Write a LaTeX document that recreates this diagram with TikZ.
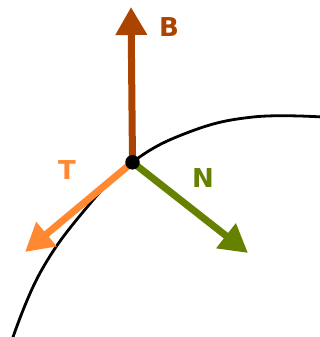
\documentclass[tikz,border=0pt]{standalone}
\usepackage{fontspec}
\setmainfont{DejaVu Sans}
\usetikzlibrary{arrows.meta}
\definecolor{bcol}{HTML}{AA4400}
\definecolor{tcol}{HTML}{FF8830}
\definecolor{ncol}{HTML}{668000}
\tikzset{
  vec/.style={line width=7pt, -{Triangle[length=28pt,width=30pt]}},
  lbl/.style={font=\bfseries\fontsize{26}{30}\selectfont, inner sep=0pt},
  curve/.style={line width=2.8pt, black},
  dotnode/.style={circle, fill=black, minimum size=14.5pt, inner sep=0pt}
}
\begin{document}
\begin{tikzpicture}[x=1pt,y=-1pt]
\useasboundingbox (0,0) rectangle (320,337);
\draw[curve] plot[smooth, tension=0.7] coordinates {(12,340) (40,273) (83,212) (132,162.5) (190,131.7) (253,117) (322,117)};
\coordinate (P) at (132.5,162.3);
\coordinate (Btip) at (131,7);
\coordinate (Ttip) at (25,252);
\coordinate (Ntip) at (248,253);
\draw[vec, bcol] (P) -- (Btip);
\draw[vec, tcol] (P) -- (Ttip);
\draw[vec, ncol] (P) -- (Ntip);
\node[dotnode] (p) at (P) {};
\node[lbl, text=bcol] (B) at (169,27.5) {B};
\node[lbl, text=tcol] (T) at (67,170) {T};
\node[lbl, text=ncol] (N) at (203,178) {N};
\end{tikzpicture}
\end{document}
